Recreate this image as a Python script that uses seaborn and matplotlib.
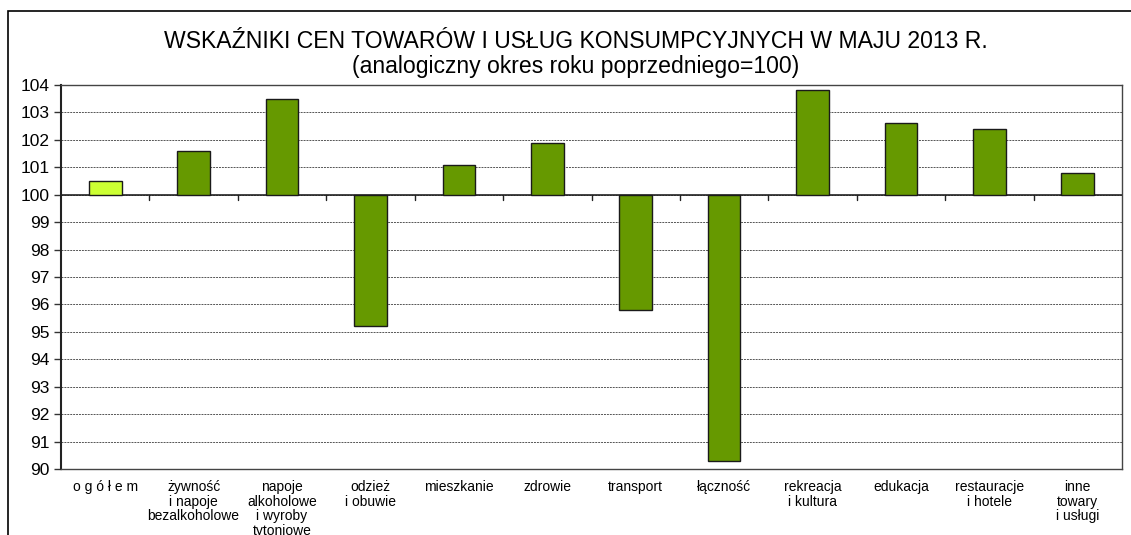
import numpy as np
import pandas as pd
import matplotlib
matplotlib.use("Agg")
import matplotlib.pyplot as plt
import seaborn as sns
from matplotlib.patches import Rectangle

# Data
categories = [
    "o g ó ł e m",
    "żywność\ni napoje\nbezalkoholowe",
    "napoje\nalkoholowe\ni wyroby\ntytoniowe",
    "odzież\ni obuwie",
    "mieszkanie",
    "zdrowie",
    "transport",
    "łączność",
    "rekreacja\ni kultura",
    "edukacja",
    "restauracje\ni hotele",
    "inne\ntowary\ni usługi",
]
values = [100.5, 101.6, 103.5, 95.2, 101.1, 101.9, 95.8, 90.3, 103.8, 102.6, 102.4, 100.8]
base = 100
bar_colors = ["#CCFF33"] + ["#669900"] * 11
y_ticks = list(range(90, 105))

title = "WSKAŹNIKI CEN TOWARÓW I USŁUG KONSUMPCYJNYCH W MAJU 2013 R.\n(analogiczny okres roku poprzedniego=100)"

df = pd.DataFrame({"cat": categories, "dev": [v - base for v in values]})

sns.set_style("white")
plt.rcParams["font.family"] = ["Liberation Sans", "DejaVu Sans"]
plt.rcParams["text.color"] = "black"
plt.rcParams["xtick.color"] = "black"
plt.rcParams["ytick.color"] = "black"

fig = plt.figure(figsize=(11.31, 5.35), dpi=100)
W, H = 1131, 535
ax = fig.add_axes([61 / W, (H - 469) / H, (1122 - 61) / W, (469 - 85) / H])

sns.barplot(data=df, x="cat", y="dev", hue="cat", palette=bar_colors, legend=False,
            saturation=1, width=0.37, bottom=base, edgecolor="#1a1a1a", linewidth=1.0,
            ax=ax, zorder=3)

ax.set_ylim(90, 104)
ax.set_xlim(-0.5, len(categories) - 0.5)
ax.set_yticks(y_ticks)
ax.set_yticklabels([str(t) for t in y_ticks], fontsize=12.5)
ax.set_xticks(range(len(categories)))
ax.set_xticklabels(categories, fontsize=10, linespacing=1.05, va="top")
ax.tick_params(axis="x", length=0, pad=8)
ax.tick_params(axis="y", length=5, width=1, color="#333333", pad=3, left=True)
ax.set_xlabel("")
ax.set_ylabel("")

ax.grid(axis="y", linestyle=(0, (2, 1)), color="#555555", linewidth=0.7, zorder=0)
ax.axhline(base, color="#222222", linewidth=1.2, zorder=2)
# category separators on the 100 line
for b in np.arange(0.5, len(categories) - 0.5, 1):
    ax.plot([b, b], [base, base - 0.18], color="#222222", linewidth=1, zorder=2)

for s in ax.spines.values():
    s.set_color("#444444")
    s.set_linewidth(1)
ax.spines["left"].set_color("#222222")
ax.spines["left"].set_linewidth(1.5)

fig.text(0.509, 1 - 54 / H, title, ha="center", va="center", fontsize=16.6, linespacing=1.15)

# outer chart frame
fig.patches.append(Rectangle((8 / W, -0.1), 1.2, 1.1 - 11 / H, transform=fig.transFigure,
                             fill=False, edgecolor="black", linewidth=1.2))

fig.savefig("out.png", dpi=100)
